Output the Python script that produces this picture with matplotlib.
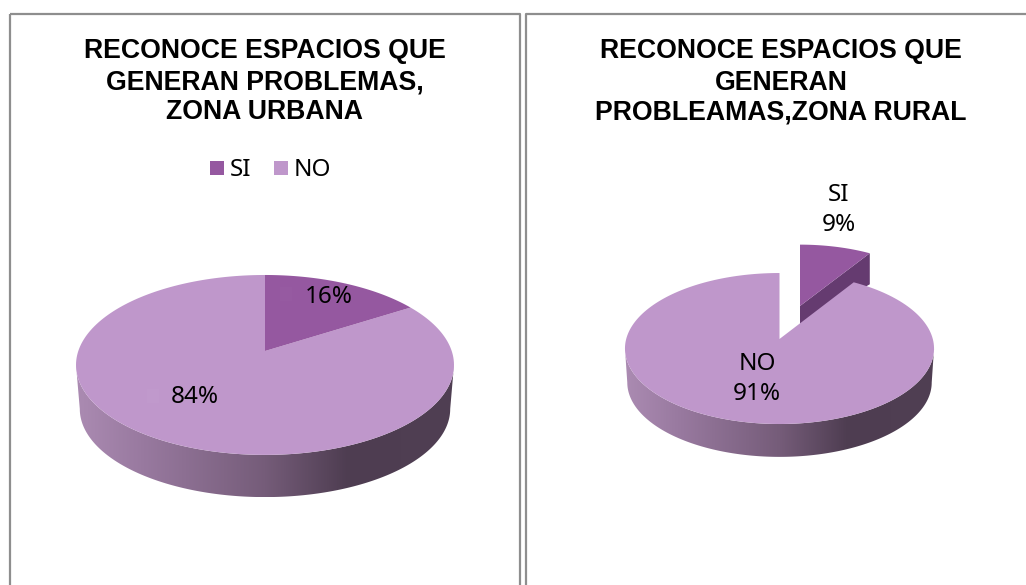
import numpy as np
import matplotlib
matplotlib.use('Agg')
import matplotlib.pyplot as plt
from matplotlib.colors import LinearSegmentedColormap
from matplotlib.patches import Polygon, Rectangle

# values (percent)
categories = ['SI', 'NO']
urbana_values = [16, 84]
rural_values = [9, 91]
urbana_title = ['RECONOCE ESPACIOS QUE', 'GENERAN PROBLEMAS,', 'ZONA URBANA']
rural_title = ['RECONOCE ESPACIOS QUE', 'GENERAN', 'PROBLEAMAS,ZONA RURAL']

COL_SI = '#9558A0'
COL_NO = '#BF97CB'
COL_WALL = '#653B70'
LABEL_FONT = 'Noto Sans'
TITLE_FONT = 'Liberation Sans'

side_cmap = LinearSegmentedColormap.from_list(
    'side', [(0, '#AB8BB2'), (0.18, '#98799F'), (0.5, '#755C79'), (0.72, '#4E3D51'), (1, '#503F53')])


def project(theta, cx, cy, a, b, k, r=1.0):
    # tilted disc with perspective, theta is clockwise from 12 o'clock
    u = r * np.sin(theta)
    v = r * np.cos(theta)
    d = 1 + k * v
    return cx + b * u / d, cy - a * v / d


def slice_points(start, stop, cx, cy, a, b, k):
    th = np.linspace(start, stop, 200)
    x, y = project(th, cx, cy, a, b, k)
    return np.column_stack([np.r_[cx, x], np.r_[cy, y]])


def draw_side(ax, cx, cy, a, b, k, thick, shrink):
    # outer wall, lower half of the rim, shaded left to right
    th = np.linspace(np.pi * 0.5 + np.arcsin(k), np.pi * 1.5 - np.arcsin(k), 300)
    x, y = project(th, cx, cy, a, b, k)
    x2 = cx + (x - cx) * shrink
    y_mid = cy + a * k / (1 - k ** 2)
    y2 = y_mid + (y - y_mid) * shrink + thick
    pts = np.column_stack([np.r_[x, x2[::-1]], np.r_[y, y2[::-1]]])
    grad = np.linspace(0, 1, 256).reshape(1, -1)
    im = ax.imshow(grad, cmap=side_cmap, vmin=0, vmax=1, aspect='auto', zorder=2,
                   extent=[x.min(), x.max(), y2.max(), y.min()])
    clip = Polygon(pts, closed=True, transform=ax.transData, facecolor='none', edgecolor='none')
    ax.add_patch(clip)
    im.set_clip_path(clip)


def draw_title(ax, lines, x, baselines):
    for line, y in zip(lines, baselines):
        ax.text(x, y, line, ha='center', va='baseline', fontsize=19.2, fontweight='bold',
                family=TITLE_FONT, color='black')


fig = plt.figure(figsize=(10.26, 5.85), dpi=100)
ax = fig.add_axes([0, 0, 1, 1])

# panel frames, open at the bottom / right like the page table
ax.plot([9.5, 9.5], [585, 13.5], color='#8E8E8E', lw=1.6, zorder=1, solid_capstyle='butt')
ax.plot([9.5, 519.5, 519.5], [13.5, 13.5, 585], color='#8E8E8E', lw=1.6, zorder=1, solid_capstyle='butt')
ax.plot([525.5, 525.5, 1026], [585, 13.5, 13.5], color='#8E8E8E', lw=1.6, zorder=1, solid_capstyle='butt')

# titles
draw_title(ax, urbana_title, 264.5, [58, 89, 119])
draw_title(ax, rural_title, 781, [58, 89.5, 119])

# legend on the left panel
ax.add_patch(Rectangle((210, 161), 14, 14, facecolor=COL_SI, edgecolor='none'))
ax.add_patch(Rectangle((274, 161), 14, 14, facecolor=COL_NO, edgecolor='none'))
ax.text(230, 170, categories[0], ha='left', va='center', fontsize=17.5, family=LABEL_FONT)
ax.text(294, 170, categories[1], ha='left', va='center', fontsize=17.5, family=LABEL_FONT)

# left pie
cx, cy, a, b, k = 265, 351, 87.8, 186.7, 0.155
si_angle = 2 * np.pi * urbana_values[0] / sum(urbana_values)
draw_side(ax, cx, cy, a, b, k, 44, 0.98)
ax.add_patch(Polygon(slice_points(si_angle, 2 * np.pi, cx, cy, a, b, k), facecolor=COL_NO, edgecolor='none', zorder=3))
ax.add_patch(Polygon(slice_points(0, si_angle, cx, cy, a, b, k), facecolor=COL_SI, edgecolor='none', zorder=3))
ax.add_patch(Rectangle((280, 287), 12, 14, facecolor='#965AA1', edgecolor='none', zorder=4))
ax.add_patch(Rectangle((147, 389), 12, 14, facecolor='#C099CC', edgecolor='none', zorder=4))
ax.text(329, 297, f'{urbana_values[0]}%', ha='center', va='center', fontsize=17.5, family=LABEL_FONT, zorder=5)
ax.text(195, 397, f'{urbana_values[1]}%', ha='center', va='center', fontsize=17.5, family=LABEL_FONT, zorder=5)

# right pie, SI slice pulled out
cx, cy, a, b, k = 779.5, 339, 74.3, 153.3, 0.126
si_angle = 2 * np.pi * rural_values[0] / sum(rural_values)
ex, ey, ea, eb = 800, 306, a * 0.93, b * 0.94
tip_x, tip_y = project(si_angle, ex, ey, ea, eb, k)
ax.add_patch(Polygon([(ex, ey), (tip_x, tip_y), (tip_x, tip_y + 31), (ex, ey + 19)],
                     facecolor=COL_WALL, edgecolor='none', zorder=2))
ax.add_patch(Polygon(slice_points(0, si_angle, ex, ey, ea, eb, k), facecolor=COL_SI, edgecolor='none', zorder=3))
draw_side(ax, cx, cy, a, b, k, 34, 0.985)
ax.add_patch(Polygon(slice_points(si_angle, 2 * np.pi, cx, cy, a, b, k), facecolor=COL_NO, edgecolor='none', zorder=3))
ax.text(839, 210, f'{categories[0]}\n{rural_values[0]}%', ha='center', va='center', fontsize=17.5,
        family=LABEL_FONT, linespacing=1.3, zorder=5)
ax.text(757, 379, f'{categories[1]}\n{rural_values[1]}%', ha='center', va='center', fontsize=17.5,
        family=LABEL_FONT, linespacing=1.3, zorder=5)

ax.set_xlim(0, 1026)
ax.set_ylim(585, 0)
ax.axis('off')

fig.savefig('out.png', dpi=100, facecolor='white')
